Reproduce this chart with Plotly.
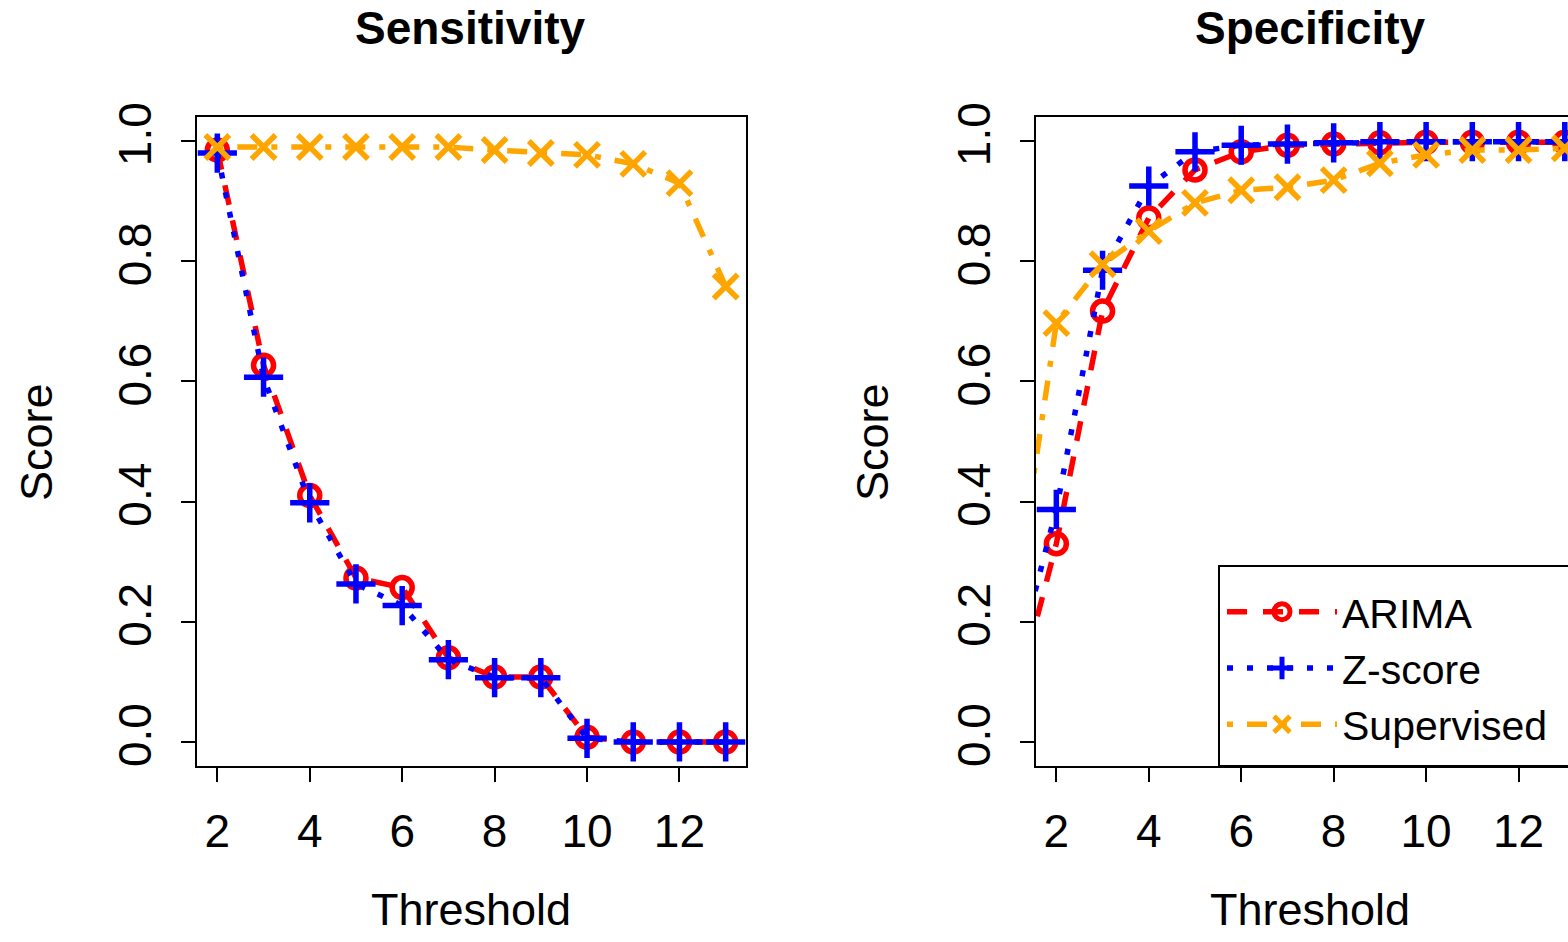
import plotly.graph_objects as go
from plotly.subplots import make_subplots

# thresholds
sens_x = [2, 3, 4, 5, 6, 7, 8, 9, 10, 11, 12, 13]
spec_x = [1, 2, 3, 4, 5, 6, 7, 8, 9, 10, 11, 12, 13]

# sensitivity scores
sens_arima = [0.985, 0.627, 0.41, 0.273, 0.257, 0.14, 0.108, 0.108, 0.008, 0.0, 0.0, 0.0]
sens_zscore = [0.98, 0.607, 0.398, 0.263, 0.227, 0.137, 0.107, 0.107, 0.006, 0.0, 0.0, 0.0]
sens_superv = [0.99, 0.99, 0.99, 0.99, 0.99, 0.99, 0.985, 0.98, 0.977, 0.962, 0.93, 0.758]

# specificity scores
spec_arima = [0.035, 0.33, 0.717, 0.872, 0.952, 0.982, 0.993, 0.995, 0.997, 0.998, 0.998, 0.998, 0.998]
spec_zscore = [0.09, 0.387, 0.785, 0.925, 0.982, 0.993, 0.995, 0.997, 0.999, 0.999, 0.999, 0.999, 0.999]
spec_superv = [0.18, 0.697, 0.795, 0.85, 0.897, 0.918, 0.923, 0.935, 0.963, 0.977, 0.985, 0.985, 0.988]

y_ticks = [0.0, 0.2, 0.4, 0.6, 0.8, 1.0]
x_ticks = [2, 4, 6, 8, 10, 12]

FONT = 'Liberation Sans, Arial, sans-serif'
W, H = 1568, 942
TOP, BOT = 117, 766  # plot area in px


def py(ypx):
    # pixel row -> paper y (paper spans the plot area)
    return (BOT - ypx) / (BOT - TOP)


styles = {
    'ARIMA': dict(color='#FF0000', dash='20px,16px', symbol='circle-open', size=20),
    'Z-score': dict(color='#0000FF', dash='6px,14px', symbol='cross-thin-open', size=28),
    'Supervised': dict(color='#FFA500', dash='6px,14px,20px,14px', symbol='x-thin-open', size=24),
}

fig = make_subplots(rows=1, cols=2)

panels = [
    (1, sens_x, {'ARIMA': sens_arima, 'Z-score': sens_zscore, 'Supervised': sens_superv}),
    (2, spec_x, {'ARIMA': spec_arima, 'Z-score': spec_zscore, 'Supervised': spec_superv}),
]

for col, xs, series in panels:
    for name, ys in series.items():
        st = styles[name]
        fig.add_trace(go.Scatter(
            x=xs, y=ys, name=name, mode='lines+markers',
            line=dict(color=st['color'], width=5.5, dash=st['dash']),
            marker=dict(symbol=st['symbol'], size=st['size'], color=st['color'],
                        line=dict(color=st['color'], width=5.5)),
            showlegend=(col == 2),
        ), row=1, col=col)

axis_common = dict(
    showgrid=False, zeroline=False, showline=True, linecolor='black', linewidth=2,
    ticks='outside', ticklen=14, tickwidth=2, tickcolor='black',
    tickfont=dict(family=FONT, size=46, color='black'),
)

fig.update_xaxes(**axis_common, tickvals=x_ticks, ticklabelstandoff=10)
fig.update_yaxes(**axis_common, tickvals=y_ticks, tickformat='.1f', tickangle=-90,
                 range=[-0.04, 1.04], ticklabelstandoff=12)

fig.update_layout(
    xaxis=dict(domain=[197 / W, 746 / W], range=[1.56, 13.44], mirror=True),
    yaxis=dict(mirror=True),
    xaxis2=dict(domain=[1036 / W, 1.0], range=[1.56, 13.07], mirror=True),
    yaxis2=dict(mirror=False),
)

annots = [
    dict(text='<b>Sensitivity</b>', x=471, y=28, size=46),
    dict(text='<b>Specificity</b>', x=1310, y=28, size=46),
    dict(text='Threshold', x=471, y=910, size=45),
    dict(text='Threshold', x=1310, y=910, size=45),
    dict(text='Score', x=36, y=442, size=45, angle=-90),
    dict(text='Score', x=872, y=442, size=45, angle=-90),
]
for a in annots:
    fig.add_annotation(
        text=a['text'], x=a['x'] / W, y=py(a['y']), xref='paper', yref='paper',
        xanchor='center', yanchor='middle', showarrow=False, textangle=a.get('angle', 0),
        font=dict(family=FONT, size=a['size'], color='black'),
    )

# legend frame running off the right edge like the original
fig.add_shape(type='rect', xref='paper', yref='paper',
              x0=1219 / W, x1=1.05, y0=py(BOT), y1=py(566),
              line=dict(color='black', width=2), fillcolor='white', layer='above')

fig.update_layout(
    width=W, height=H,
    margin=dict(l=0, r=0, t=TOP, b=H - BOT),
    plot_bgcolor='white', paper_bgcolor='white',
    font=dict(family=FONT, color='black'),
    legend=dict(
        x=1222 / W, y=py(668), xanchor='left', yanchor='middle',
        borderwidth=0, bgcolor='rgba(0,0,0,0)',
        font=dict(family=FONT, size=41, color='black'),
        itemwidth=110, tracegroupgap=0,
    ),
)

fig.write_html('out.html', post_script="document.body.style.margin='0';",
               config={'displayModeBar': False})
